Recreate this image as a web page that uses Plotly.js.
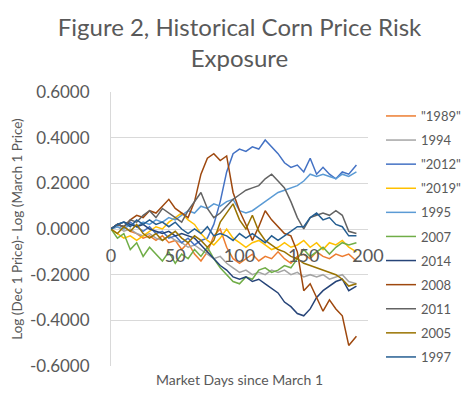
<!DOCTYPE html>
<html>
<head>
<meta charset="utf-8">
<script src="https://cdn.plot.ly/plotly-3.0.1.min.js"></script>
<style>html,body{margin:0;padding:0;background:#fff;}#chart{width:474px;height:399px;}</style>
</head>
<body>
<div id="chart"></div>
<script>
// Market days since March 1 (sampled)
const days = [0,5,10,15,20,25,30,35,40,45,50,55,60,65,70,75,80,85,90,95,100,105,110,115,120,125,130,135,140,145,150,155,160,165,170,175,180,185,191];

const seriesNames = ['"1989"','1994','"2012"','"2019"','1995','2007','2014','2008','2011','2005','1997'];
const seriesColors = ['#ED7D31','#A5A5A5','#4472C4','#FFC000','#5B9BD5','#70AD47','#264478','#9E480E','#636363','#997300','#255E91'];

const y1989 = [0,0.02,0.01,-0.01,-0.02,-0.04,-0.03,-0.05,-0.03,-0.06,-0.05,-0.09,-0.06,-0.11,-0.14,-0.10,-0.03,0.0,-0.08,-0.13,-0.15,-0.13,-0.11,-0.14,-0.12,-0.13,-0.10,-0.13,-0.15,-0.12,-0.11,-0.13,-0.10,-0.12,-0.13,-0.11,-0.12,-0.11,-0.14];
const y1994 = [0,0.01,-0.01,0.0,-0.02,-0.03,-0.02,-0.04,-0.05,-0.03,-0.05,-0.06,-0.08,-0.07,-0.09,-0.11,-0.13,-0.12,-0.15,-0.17,-0.19,-0.18,-0.20,-0.19,-0.20,-0.18,-0.19,-0.18,-0.20,-0.19,-0.21,-0.20,-0.21,-0.20,-0.22,-0.21,-0.20,-0.23,-0.24];
const y2012 = [0,0.02,0.01,0.03,0.01,-0.01,0.01,-0.02,-0.01,-0.04,-0.03,-0.06,-0.04,-0.07,-0.05,-0.04,0.02,0.12,0.25,0.33,0.35,0.34,0.36,0.35,0.39,0.36,0.33,0.29,0.27,0.28,0.25,0.31,0.24,0.27,0.24,0.22,0.25,0.24,0.28];
const y2019 = [0,-0.02,-0.04,-0.03,-0.05,-0.03,-0.01,0.01,0.0,0.03,0.05,0.07,0.04,0.02,-0.02,-0.05,-0.07,-0.04,0.0,-0.04,-0.06,-0.08,-0.06,-0.05,-0.07,-0.09,-0.08,-0.06,-0.08,-0.07,-0.05,-0.08,-0.06,-0.09,-0.06,-0.07,-0.05,-0.08,-0.10];
const y1995 = [0,0.01,0.0,0.02,0.01,0.03,0.02,0.04,0.03,0.05,0.04,0.06,0.08,0.07,0.10,0.09,0.11,0.10,0.12,0.13,0.08,0.07,0.08,0.10,0.12,0.14,0.16,0.17,0.18,0.19,0.21,0.24,0.23,0.24,0.23,0.22,0.24,0.23,0.25];
const y2007 = [0,-0.04,-0.02,-0.09,-0.06,-0.12,-0.08,-0.11,-0.14,-0.10,-0.15,-0.11,-0.13,-0.09,-0.12,-0.08,-0.13,-0.17,-0.20,-0.23,-0.24,-0.21,-0.22,-0.18,-0.17,-0.19,-0.18,-0.16,-0.17,-0.13,-0.09,-0.12,-0.10,-0.08,-0.11,-0.08,-0.06,-0.07,-0.06];
const y2014 = [0,0.02,0.03,0.02,0.01,0.02,0.0,-0.01,-0.02,-0.01,-0.03,-0.02,-0.03,-0.04,-0.07,-0.10,-0.13,-0.16,-0.18,-0.21,-0.22,-0.21,-0.23,-0.22,-0.24,-0.26,-0.28,-0.32,-0.34,-0.37,-0.38,-0.35,-0.30,-0.27,-0.25,-0.23,-0.22,-0.27,-0.25];
const y2008 = [0,0.02,0.01,0.04,0.06,0.05,0.08,0.07,0.10,0.13,0.09,0.07,0.05,0.12,0.24,0.31,0.33,0.30,0.32,0.16,0.08,0.02,-0.05,0.01,0.08,0.04,0.01,-0.02,-0.03,-0.10,-0.27,-0.24,-0.30,-0.36,-0.31,-0.35,-0.38,-0.51,-0.47];
const y2011 = [0,0.02,0.01,0.04,0.03,0.06,0.08,0.05,0.09,0.07,0.05,0.03,0.08,0.12,0.16,0.09,0.05,0.07,0.10,0.13,0.15,0.17,0.18,0.19,0.22,0.24,0.21,0.18,0.12,0.05,0.0,0.05,0.06,0.07,0.06,0.08,0.06,-0.01,-0.02];
const y2005 = [0,-0.02,0.01,-0.01,0.02,-0.02,-0.04,-0.02,-0.05,-0.03,-0.01,-0.04,-0.06,-0.03,-0.05,-0.08,-0.05,0.03,0.07,0.11,0.04,0.0,0.06,-0.01,-0.05,-0.07,-0.09,-0.10,-0.12,-0.13,-0.15,-0.16,-0.17,-0.18,-0.19,-0.20,-0.22,-0.25,-0.24];
const y1997 = [0,0.02,0.03,0.01,0.04,0.02,0.04,0.02,0.03,0.01,0.03,0.0,-0.02,0.0,-0.02,0.01,-0.03,-0.02,-0.03,-0.05,-0.02,-0.04,-0.02,-0.04,-0.06,-0.03,-0.05,-0.03,-0.01,0.01,0.01,0.05,0.07,0.04,0.05,0.02,0.01,-0.03,-0.03];

const seriesValues = [y1989,y1994,y2012,y2019,y1995,y2007,y2014,y2008,y2011,y2005,y1997];

const yTicks = [-0.6,-0.4,-0.2,0,0.2,0.4,0.6];
const yTickLabels = ['-0.6000','-0.4000','-0.2000','0.0000','0.2000','0.4000','0.6000'];
const xTicks = [0,50,100,150,200];
const xTickLabels = ['0','50','100','150','200'];

const FONT = 'Lato, "Open Sans", sans-serif';
const TXT = '#595959';

const traces = seriesNames.map((n,i)=>({
  x: days, y: seriesValues[i], name: n, type:'scatter', mode:'lines',
  line:{color:seriesColors[i], width:1.5}, legendgroup:'g'+i
}));

const layout = {
  width:474, height:399,
  margin:{l:111, r:106, t:92, b:33, pad:0},
  paper_bgcolor:'#fff', plot_bgcolor:'#fff',
  font:{family:FONT, color:TXT},
  title:{text:'Figure 2, Historical Corn Price Risk<br>Exposure', x:0.5, xanchor:'center', xref:'paper',
         y:0.91, yanchor:'top', yref:'container', font:{size:24, color:TXT, family:FONT}},
  xaxis:{range:[0,200], tickvals:xTicks, ticktext:xTickLabels, showgrid:false, zeroline:false,
         anchor:'free', position:0.5, showline:false, ticks:'', ticklabelstandoff:14,
         tickfont:{size:18, color:TXT}, fixedrange:true},
  yaxis:{range:[-0.6,0.6], tickvals:yTicks, ticktext:yTickLabels, showgrid:true, gridcolor:'#D9D9D9', gridwidth:1,
         zeroline:true, zerolinecolor:'#D9D9D9', zerolinewidth:1,
         showline:true, linecolor:'#D9D9D9', linewidth:1, ticks:'', ticklabelstandoff:17,
         tickfont:{size:17, color:TXT},
         title:{text:'Log (Dec 1 Price)- Log (March 1 Price)', font:{size:13.5, color:TXT}, standoff:4}},
  legend:{x:381/474, xref:'container', xanchor:'left', y:(399-101)/399, yref:'container', yanchor:'top',
          font:{size:13, color:TXT}, traceorder:'grouped', tracegroupgap:4.2,
          bgcolor:'rgba(0,0,0,0)', itemwidth:30, maxheight:1},
  annotations:[{text:'Market Days since March 1', xref:'paper', yref:'paper', x:0.5, y:-0.01,
                xanchor:'center', yanchor:'top', showarrow:false, font:{size:14, color:TXT}}],
  showlegend:true
};

Plotly.newPlot('chart', traces, layout, {displayModeBar:false, staticPlot:true});
</script>
</body>
</html>
